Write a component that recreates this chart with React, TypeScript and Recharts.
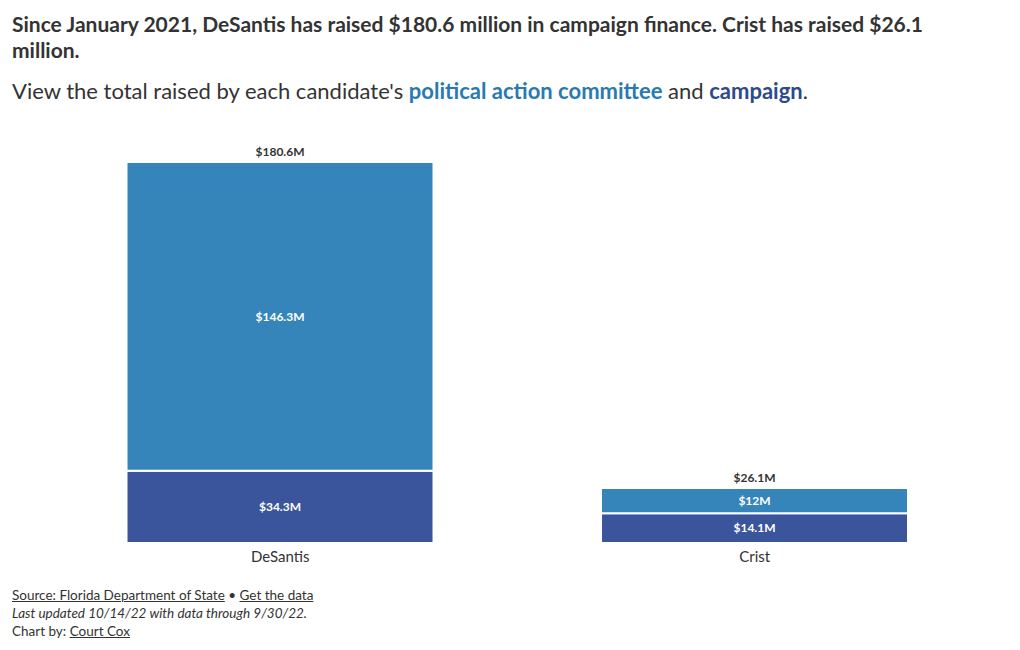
import {BarChart, Bar, XAxis, YAxis, LabelList} from "recharts";

const candidates = ["DeSantis", "Crist"];
const campaignRaised = [34.3, 14.1];
const pacRaised = [146.3, 12];
const totalRaised = [180.6, 26.1];

const data = candidates.map((name, i) => ({
  name,
  campaign: campaignRaised[i],
  pac: pacRaised[i],
  total: totalRaised[i],
}));

const font = "Lato, 'Noto Sans', sans-serif";
const money = (v: any) => `$${v}M`;

const App = () => {
  return (
    <div style={{position: "absolute", left: 0, top: 0, width: 1020, height: 650, fontFamily: font, color: "#333"}}>
      <div style={{position: "absolute", left: 12, top: 11, width: 960, fontSize: 21, fontWeight: 700, lineHeight: "26px"}}>
        Since January 2021, DeSantis has raised $180.6 million in campaign finance. Crist has raised $26.1 million.
      </div>
      <div style={{position: "absolute", left: 12, top: 77, fontSize: 22, lineHeight: "28px"}}>
        View the total raised by each candidate's{" "}
        <b style={{color: "#2a7ab0"}}>political action committee</b> and{" "}
        <b style={{color: "#2c4a8c"}}>campaign</b>.
      </div>
      <div style={{position: "absolute", left: 0, top: 130}}>
        <BarChart
          width={1020}
          height={450}
          data={data}
          margin={{top: 32, right: 28, left: 43, bottom: 7}}
          barCategoryGap="17.6%"
        >
          <XAxis dataKey="name" axisLine={false} tickLine={false} height={30}
            tick={{fill: "#333", fontSize: 15, fontFamily: font}} />
          <YAxis hide domain={[0, "dataMax"]} />
          <Bar dataKey="campaign" stackId="a" fill="#3a559c" stroke="#fff" strokeWidth={2} isAnimationActive={false}>
            <LabelList dataKey="campaign" position="center" formatter={money}
              style={{fill: "#fff", fontSize: 12, fontWeight: 700, fontFamily: font}} />
          </Bar>
          <Bar dataKey="pac" stackId="a" fill="#3585bb" stroke="#fff" strokeWidth={2} isAnimationActive={false}>
            <LabelList dataKey="pac" position="center" formatter={money}
              style={{fill: "#fff", fontSize: 12, fontWeight: 700, fontFamily: font}} />
            <LabelList dataKey="total" position="top" formatter={money} offset={6}
              style={{fill: "#333", fontSize: 12, fontWeight: 700, fontFamily: font}} />
          </Bar>
        </BarChart>
      </div>
      <div style={{position: "absolute", left: 12, top: 586, fontSize: 13.5, lineHeight: "18px"}}>
        <div><u>Source: Florida Department of State</u> • <u>Get the data</u></div>
        <div><i>Last updated 10/14/22 with data through 9/30/22.</i></div>
        <div>Chart by: <u>Court Cox</u></div>
      </div>
    </div>
  );
};

export default App;
